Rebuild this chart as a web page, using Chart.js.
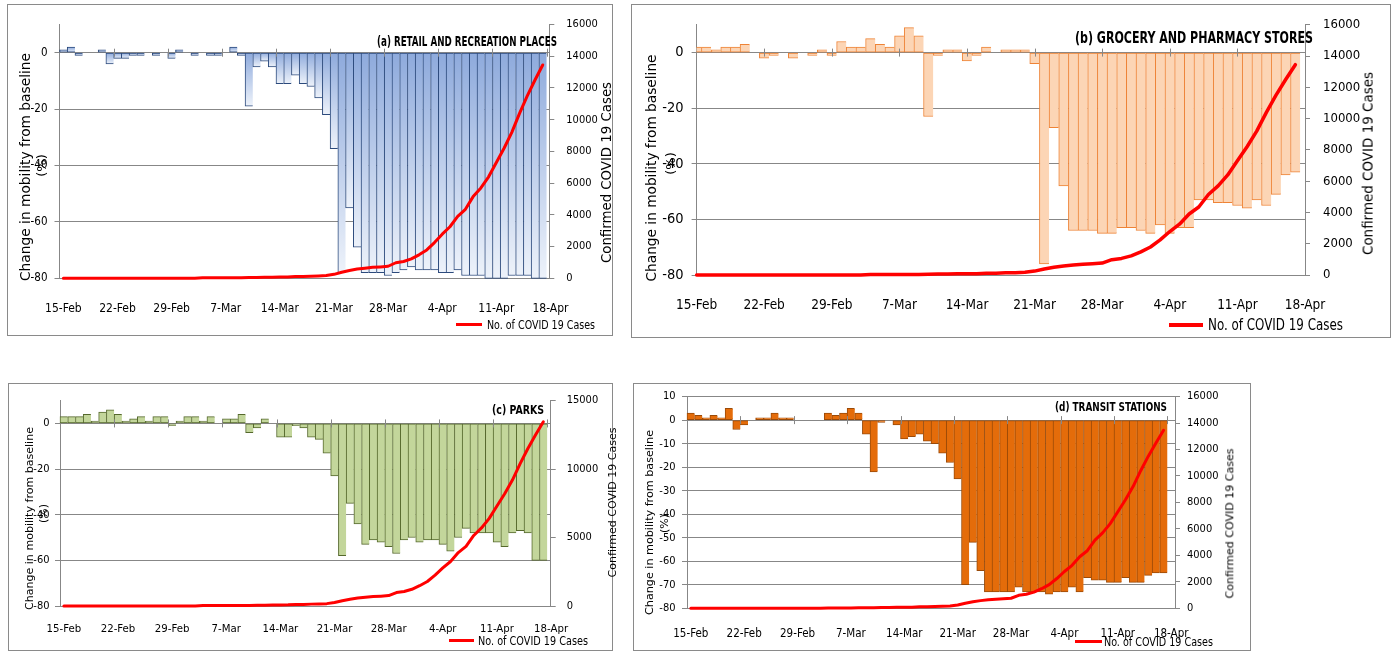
<!DOCTYPE html>
<html>
<head>
<meta charset="utf-8">
<script src="https://cdn.jsdelivr.net/npm/chart.js@4.4.1/dist/chart.umd.min.js"></script>
<style>
  html, body { margin: 0; padding: 0; background: #ffffff; }
  body { width: 1392px; height: 652px; position: relative; overflow: hidden; }
  .box { position: absolute; border: 1px solid #8a8a8a; box-sizing: border-box; }
  canvas { position: absolute; }
  .txt { position: absolute; white-space: nowrap; color: #000; line-height: 1; }
  .leg { position: absolute; background: #ff0000; }
</style>
</head>
<body>
<div class="box" id="ba"></div><div class="box" id="bb"></div><div class="box" id="bc"></div><div class="box" id="bd"></div>
<canvas id="ca"></canvas><canvas id="cb"></canvas><canvas id="cc"></canvas><canvas id="cd"></canvas>
<script>
// ---------------- DATA ----------------
const days = [
  '15-Feb','16-Feb','17-Feb','18-Feb','19-Feb','20-Feb','21-Feb','22-Feb','23-Feb','24-Feb','25-Feb','26-Feb','27-Feb','28-Feb','29-Feb',
  '1-Mar','2-Mar','3-Mar','4-Mar','5-Mar','6-Mar','7-Mar','8-Mar','9-Mar','10-Mar','11-Mar','12-Mar','13-Mar','14-Mar','15-Mar','16-Mar',
  '17-Mar','18-Mar','19-Mar','20-Mar','21-Mar','22-Mar','23-Mar','24-Mar','25-Mar','26-Mar','27-Mar','28-Mar','29-Mar','30-Mar','31-Mar',
  '1-Apr','2-Apr','3-Apr','4-Apr','5-Apr','6-Apr','7-Apr','8-Apr','9-Apr','10-Apr','11-Apr','12-Apr','13-Apr','14-Apr','15-Apr','16-Apr','17-Apr'
];
const dateTickLabels = ['15-Feb','22-Feb','29-Feb','7-Mar','14-Mar','21-Mar','28-Mar','4-Apr','11-Apr','18-Apr'];

const retailRecreation = [1,2,-1,0,0,1,-4,-2,-2,-1, -1,0,-1,0,-2,1,0,-1,0,-1, -1,0,2,-1,-19,-5,-3,-5,-11,-11,
  -8,-11,-12,-16,-22,-34,-78,-55,-69,-78, -78,-78,-79,-78,-77,-76,-77,-77,-77,-78, -78,-77,-79,-79,-79,-80,-80,-80,-79,-79, -79,-80,-80];
const groceryPharmacy = [2,2,1,2,2,3,0,-2,-1,0, -2,0,-1,1,-1,4,2,2,5,3, 2,6,9,6,-23,-1,1,1,-3,-1,
  2,0,1,1,1,-4,-76,-27,-48,-64, -64,-64,-65,-65,-63,-63,-64,-65,-62,-65, -63,-63,-53,-53,-54,-54,-55,-56,-53,-55, -51,-44,-43];
const parks = [3,3,3,4,1,5,6,4,1,2, 3,1,3,3,-1,1,3,3,1,3, 0,2,2,4,-4,-2,2,0,-6,-6,
  -1,-2,-6,-7,-13,-23,-58,-35,-44,-53, -51,-52,-54,-57,-51,-50,-52,-51,-51,-53, -56,-50,-46,-48,-48,-48,-52,-54,-48,-47, -48,-60,-60];
const transitStations = [3,2,1,2,1,5,-4,-2,0,1, 1,3,1,1,0,0,0,0,3,2, 3,5,3,-6,-22,-1,0,-2,-8,-7,
  -6,-9,-10,-14,-18,-25,-70,-52,-64,-73, -73,-73,-73,-71,-73,-73,-73,-74,-73,-73, -71,-73,-67,-68,-68,-69,-69,-67,-69,-69, -66,-65,-65];
const covidCases = [3,3,3,3,3,3,3,3,3,3,3,3,3,3,3,3,3,
  5,28,29,30,31,34,39,43,56,62,73,82,84,110,114,137,151,173,
  250,380,490,580,640,690,720,760,980,1060,1220,1480,1790,2250,2780,3250,3900,4350,5150,5700,6400,7300,8200,9200,10400,11500,12500,13450];

const mobilityTicks20 = [-80,-60,-40,-20,0];
const mobilityTicks10 = [-80,-70,-60,-50,-40,-30,-20,-10,0,10];
const caseTicks16000 = [0,2000,4000,6000,8000,10000,12000,14000,16000];
const caseTicks15000 = [0,5000,10000,15000];

const seriesName = 'No. of COVID 19 Cases';
const leftTitle = 'Change in mobility from baseline';
const leftTitle2 = '(%)';
const rightTitle = 'Confirmed COVID 19 Cases';

// ---------------- LAYOUT ----------------
const NARROW = "'DejaVu Sans Condensed','Liberation Sans Narrow',sans-serif";
const WIDE = "'DejaVu Sans',Verdana,sans-serif";
const GRID = '#878787';

const zeroTicks = {
  id: 'zeroTicks',
  afterDatasetsDraw(chart, args, opts) {
    const ctx = chart.ctx, xs = chart.scales.x, ys = chart.scales.y;
    const y0 = ys.getPixelForValue(0);
    ctx.save();
    ctx.strokeStyle = opts.color; ctx.lineWidth = 1;
    opts.positions.forEach(v => {
      const px = Math.round(xs.getPixelForValue(v)) + 0.5;
      ctx.beginPath(); ctx.moveTo(px, y0 - 4); ctx.lineTo(px, y0 + 4); ctx.stroke();
    });
    ctx.restore();
  }
};

function blueGradient(c) {
  const chart = c.chart, ys = chart.scales.y;
  if (c.type !== 'data' || !ys || !c.raw) return '#b4c7e7';
  const p0 = ys.getPixelForValue(0), p1 = ys.getPixelForValue(c.raw.y);
  if (!isFinite(p0) || !isFinite(p1) || Math.abs(p0 - p1) < 0.5) return '#b4c7e7';
  const g = chart.ctx.createLinearGradient(0, Math.min(p0, p1), 0, Math.max(p0, p1));
  g.addColorStop(0, '#8eaadc');
  g.addColorStop(1, '#edf2fa');
  return g;
}

const panels = [
  { canvas: 'ca', boxId: 'ba', box: {x: 7, y: 4, w: 606, h: 332}, plot: {l: 59.5, r: 549.3, t: 24.5, b: 278.3},
    xMin: -0.5, xMax: 62.85, tickShift: -0.5, values: retailRecreation, leftTicks: mobilityTicks20,
    rightMax: 16000, rightTicks: caseTicks16000, fill: blueGradient, border: '#2c4a7c',
    xFont: 12, leftFont: 11.5, rightFont: 11, xPad: 23, leftPad: 7, rightPad: 12, lineWidth: 3, clipBars: false, topGrid: false },
  { canvas: 'cb', boxId: 'bb', box: {x: 631, y: 4, w: 760, h: 334}, plot: {l: 696.6, r: 1305, t: 19.3, b: 275},
    xMin: 0, xMax: 63, tickShift: 0, values: groceryPharmacy, leftTicks: mobilityTicks20,
    rightMax: 16000, rightTicks: caseTicks16000, fill: '#fcd5b5', border: '#ee8336',
    xFont: 13.5, leftFont: 14.5, rightFont: 13, xPad: 22, leftPad: 8, rightPad: 13, lineWidth: 3.5, clipBars: {left: 0, right: false, top: false, bottom: false}, topGrid: false },
  { canvas: 'cc', boxId: 'bc', box: {x: 8, y: 383, w: 605, h: 268}, plot: {l: 60, r: 550.7, t: 393, b: 606},
    xMin: -0.5, xMax: 62.95, tickShift: -0.5, values: parks, leftTicks: mobilityTicks20,
    rightMax: 15000, rightTicks: caseTicks15000, fill: '#c3d69b', border: '#55682c',
    xFont: 11.3, leftFont: 11, rightFont: 11, xPad: 16.5, leftPad: 5.5, rightPad: 11, lineWidth: 3, clipBars: false, topGrid: false },
  { canvas: 'cd', boxId: 'bd', box: {x: 633, y: 383, w: 618, h: 268}, plot: {l: 687, r: 1175, t: 394, b: 608.3},
    xMin: -0.5, xMax: 63.5, tickShift: -0.5, values: transitStations, leftTicks: mobilityTicks10,
    rightMax: 16000, rightTicks: caseTicks16000, fill: '#e46c0a', border: '#9a4a08',
    xFont: 11.5, leftFont: 11, rightFont: 11, xPad: 18.5, leftPad: 6.5, rightPad: 7, lineWidth: 3, clipBars: false, topGrid: true }
];

const tickPositions = dateTickLabels.map((_, k) => k * 7);

function makeChart(p) {
  const box = document.getElementById(p.boxId);
  box.style.left = p.box.x + 'px'; box.style.top = p.box.y + 'px';
  box.style.width = p.box.w + 'px'; box.style.height = p.box.h + 'px';
  const cv = document.getElementById(p.canvas);
  cv.width = p.box.w; cv.height = p.box.h;
  cv.style.left = p.box.x + 'px'; cv.style.top = p.box.y + 'px';
  const LW = p.plot.l - p.box.x, RW = p.box.x + p.box.w - p.plot.r;
  const PT = p.plot.t - p.box.y, XH = p.box.y + p.box.h - p.plot.b;

  new Chart(cv, {
    type: 'bar',
    data: {
      datasets: [
        { type: 'line', label: seriesName, data: covidCases.map((v, i) => ({x: i, y: v})),
          xAxisID: 'x', yAxisID: 'y1', borderColor: '#ff0000', backgroundColor: '#ff0000',
          borderWidth: p.lineWidth, pointRadius: 0, tension: 0, order: 0, clip: false,
          borderJoinStyle: 'round', borderCapStyle: 'round' },
        { type: 'bar', label: 'Mobility', data: p.values.map((v, i) => ({x: i, y: v})),
          xAxisID: 'x', yAxisID: 'y', backgroundColor: p.fill, borderColor: p.border,
          borderWidth: {left: 1, right: 0, top: 1, bottom: 1}, borderSkipped: false,
          barPercentage: 1, categoryPercentage: 1, order: 1, clip: p.clipBars }
      ]
    },
    options: {
      responsive: false, animation: false, devicePixelRatio: 1,
      layout: { padding: { left: 0, right: 0, top: PT, bottom: 0 } },
      plugins: {
        legend: { display: false }, tooltip: { enabled: false },
        zeroTicks: { color: GRID, positions: tickPositions.slice(1).map(v => v + p.tickShift) }
      },
      scales: {
        x: {
          type: 'linear', min: p.xMin, max: p.xMax, offset: false, bounds: 'data',
          afterBuildTicks: s => { s.ticks = tickPositions.map(v => ({value: v})); },
          afterFit: s => { s.height = XH; },
          grid: { display: false, drawTicks: false, drawOnChartArea: false },
          border: { display: false },
          ticks: { autoSkip: false, maxRotation: 0, minRotation: 0, padding: p.xPad, color: '#000',
                   font: { family: NARROW, size: p.xFont }, callback: (v, i) => dateTickLabels[i] }
        },
        y: {
          position: 'left', min: -80, max: 10,
          afterBuildTicks: s => { s.ticks = p.leftTicks.map(v => ({value: v})); },
          afterFit: s => { s.width = LW; },
          grid: { color: c => (c.tick && c.tick.value === 10 && !p.topGrid) ? 'rgba(0,0,0,0)' : GRID,
                  lineWidth: 1, drawTicks: true, tickLength: 5 },
          border: { display: true, color: GRID, width: 1 },
          ticks: { padding: p.leftPad, color: '#000', font: { family: NARROW, size: p.leftFont },
                   callback: v => String(v) }
        },
        y1: {
          position: 'right', min: 0, max: p.rightMax,
          afterBuildTicks: s => { s.ticks = p.rightTicks.map(v => ({value: v})); },
          afterFit: s => { s.width = RW; },
          grid: { drawOnChartArea: false, drawTicks: true, tickLength: 5, color: GRID },
          border: { display: true, color: GRID, width: 1 },
          ticks: { padding: p.rightPad, color: '#000', font: { family: NARROW, size: p.rightFont },
                   callback: v => String(v) }
        }
      }
    },
    plugins: [zeroTicks]
  });
}
panels.forEach(makeChart);

// ---------------- TEXT OVERLAYS ----------------
function placeText(text, o) {
  const el = document.createElement('div');
  el.className = 'txt';
  el.textContent = text;
  el.style.font = o.font;
  document.body.appendChild(el);
  const r = el.getBoundingClientRect();
  const w = r.width, h = r.height;
  const s = o.len ? o.len / w : 1;
  if (o.rotate) {
    el.style.left = (o.cx - w / 2) + 'px';
    el.style.top = (o.cy - h / 2) + 'px';
    el.style.transform = 'rotate(-90deg) scaleX(' + s + ')';
  } else {
    let left;
    if (o.left !== undefined) left = o.left;
    else if (o.right !== undefined) left = o.right - w * s;
    else left = o.cx - w * s / 2;
    el.style.left = left + 'px';
    el.style.top = (o.cy - h / 2) + 'px';
    el.style.transformOrigin = '0 50%';
    el.style.transform = 'scaleX(' + s + ')';
  }
}
function legendLine(x1, x2, cy, t) {
  const d = document.createElement('div');
  d.className = 'leg';
  d.style.left = x1 + 'px'; d.style.width = (x2 - x1) + 'px';
  d.style.top = (cy - t / 2) + 'px'; d.style.height = t + 'px';
  document.body.appendChild(d);
}

const panelTitles = ['(a) RETAIL AND RECREATION PLACES', '(b) GROCERY AND PHARMACY STORES', '(c) PARKS', '(d) TRANSIT STATIONS'];
const titlePos = [
  {right: 557, cy: 40.7, len: 180, font: 'bold 14px ' + NARROW},
  {right: 1312.7, cy: 37.3, len: 238, font: 'bold 16px ' + NARROW},
  {right: 544, cy: 409, len: 52, font: 'bold 12.5px ' + NARROW},
  {right: 1167, cy: 406.7, len: 112, font: 'bold 12.5px ' + NARROW}
];
panelTitles.forEach((t, i) => placeText(t, titlePos[i]));

const axisPos = [
  {l: {cx: 24.5, cy: 167, len: 228, font: '13.5px ' + WIDE}, p: {cx: 41, cy: 165, font: '13px ' + WIDE}, r: {cx: 606, cy: 172, len: 181, font: '13.3px ' + WIDE}},
  {l: {cx: 650.5, cy: 168, len: 227, font: '13.5px ' + WIDE}, p: {cx: 670, cy: 163, font: '13px ' + WIDE}, r: {cx: 1368, cy: 163, len: 183, font: '13.4px ' + WIDE}},
  {l: {cx: 29, cy: 518.5, len: 183, font: '11px ' + WIDE}, p: {cx: 43.5, cy: 513, font: '11px ' + WIDE}, r: {cx: 613, cy: 502, len: 150, font: '11px ' + WIDE}},
  {l: {cx: 650, cy: 522, len: 185, font: '11.2px ' + WIDE}, p: {cx: 665, cy: 523, font: '11px ' + WIDE}, r: {cx: 1230, cy: 523, len: 150, font: '11px ' + WIDE}}
];
axisPos.forEach(a => {
  placeText(leftTitle, Object.assign({rotate: true}, a.l));
  placeText(leftTitle2, Object.assign({rotate: true}, a.p));
  placeText(rightTitle, Object.assign({rotate: true}, a.r));
});

const legendPos = [
  {x1: 456, x2: 482, cy: 324, t: 3, left: 487, len: 108, font: '13px ' + NARROW},
  {x1: 1169, x2: 1203, cy: 325, t: 3.5, left: 1208, len: 135, font: '15px ' + NARROW},
  {x1: 449, x2: 474, cy: 640, t: 3, left: 478, len: 110, font: '12.5px ' + NARROW},
  {x1: 1075, x2: 1102, cy: 641, t: 3, left: 1104, len: 109, font: '12.5px ' + NARROW}
];
legendPos.forEach(l => {
  legendLine(l.x1, l.x2, l.cy, l.t);
  placeText(seriesName, {left: l.left, cy: l.cy, len: l.len, font: l.font});
});
</script>
</body>
</html>
